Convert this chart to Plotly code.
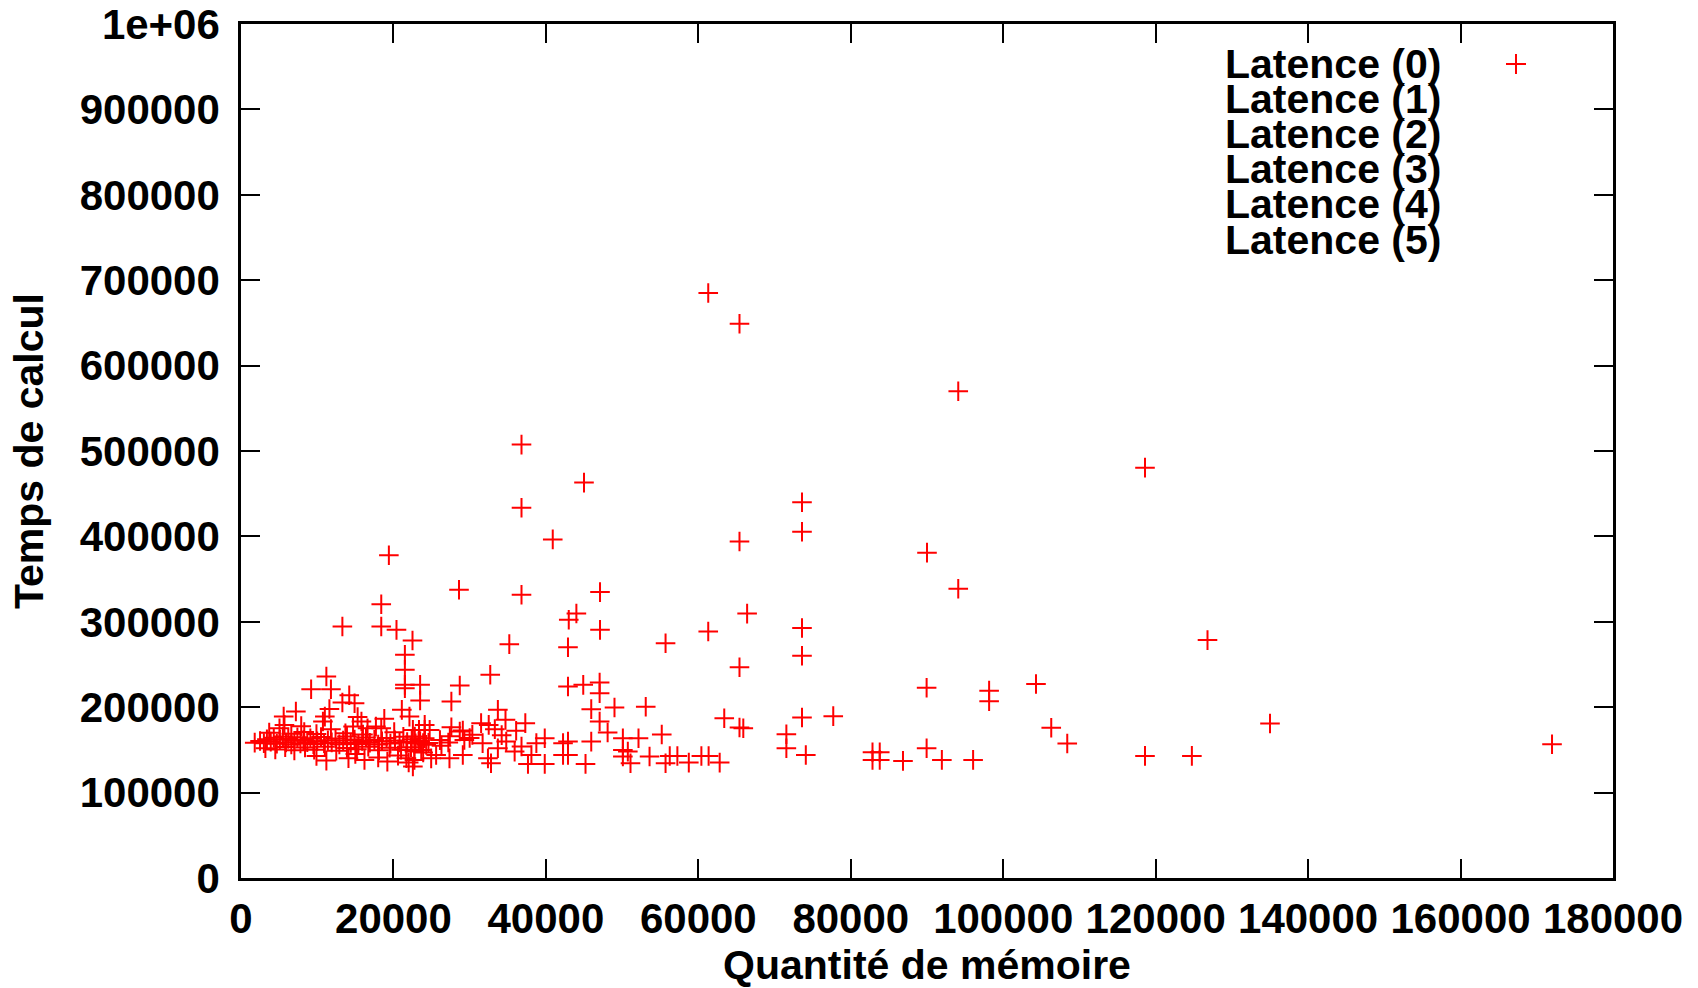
import plotly.graph_objects as go

# ---- data ----
memoire = [
    61300, 65400, 94100, 36800, 45000, 118600, 36800, 73600, 73600, 65400,
    40900, 90000, 19400, 28600, 94100, 47100, 36800, 18400, 13300, 18400,
    20400, 22500, 44000, 43000, 47100, 66400, 61300, 73600, 73600, 65400,
    55700, 35200, 42900, 126800, 21500, 21500,
    32700, 11200, 89950, 104300, 98150, 98150, 135000, 9200, 11800, 14200,
    13300, 14900, 21500, 21500, 23500, 23500, 28700, 27600, 21100, 33700,
    42900, 44900, 47050, 47050, 45950, 49000, 53100, 7200, 11600, 11000,
    10750, 15300, 15800, 5600, 18800, 22100, 34700, 31500, 37300, 47050,
    63400, 73600, 77700, 108400, 106300,
    5700, 5050, 18400, 16600, 14700, 11800, 17700, 24100, 32500, 33300,
    27600, 29100, 28700, 48100, 65400, 65900, 55200, 71550, 22550, 23350,
    24100, 24750, 27400, 30350, 8300, 9900, 3700, 6600, 13700, 20100,
    16000, 7900,
    1800, 2500, 3000, 3400, 3900, 4300, 4700, 5100, 5500, 5900,
    6200, 6600, 7000, 7400, 7800, 8200, 8700, 9100, 9500, 10000,
    10500, 10900, 11400, 11900, 12400, 12900, 13400, 13900, 14400, 14900,
    15400, 15900, 16400, 16900, 17500, 18000, 18500, 19100, 19600, 20200,
    20800, 21300, 21800, 22400, 22900, 23500, 24100, 24600, 22800, 23300,
    23900, 24300, 3200, 4500, 5800, 7000, 8400, 9600, 11000, 12500,
    13900, 15200, 16700, 18100, 19500, 21000, 22300, 21700, 22750, 23650,
    26100, 27200,
    9900, 11200, 14100, 15000, 16200, 18000, 19200, 20600, 22000, 21700,
    22750, 22550, 23900, 25600, 24950, 27350, 29100,
    29300, 31700, 33700, 34800, 32400, 32800, 35900, 36800, 38100, 37650,
    39850, 38750, 39850, 42250, 42250, 30000, 34200, 36100, 26300,
    42900, 45950, 42900, 50100, 52150, 50100, 50100, 50750, 51100, 45200,
    53600, 55700, 56250, 57250, 58750, 60400, 61350, 62800,
    71550, 74100, 82850, 83800, 82850, 83800, 86850, 89950, 91950, 96050,
    118600, 124750, 172000,
]
temps = [
    685000, 649000, 570000, 507500, 463000, 480500, 433500, 440000, 405500, 394000,
    396500, 381000, 378000, 337500, 338700, 334800, 331700, 320500, 294500, 294500,
    290600, 278100, 309800, 302400, 290600, 309600, 288700, 292800, 260200, 246800,
    274900, 273800, 270200, 278600, 261300, 243800,
    238000, 236000, 222800, 227200, 219400, 206900, 181000, 221100, 221100, 214000,
    205500, 204700, 226200, 222300, 226200, 207800, 225400, 206600, 196900, 196900,
    224200, 226200, 228900, 216400, 197700, 199600, 200500, 194900, 197900, 189000,
    183200, 188500, 183200, 189000, 186500, 189000, 185200, 181300, 181300, 183200,
    187100, 187900, 189500, 157500, 176000,
    179300, 175400, 175400, 175400, 177300, 174300, 177300, 179300, 179300, 174300,
    176600, 172600, 171500, 170300, 176200, 175400, 168000, 168400, 173400, 173400,
    173400, 173400, 166000, 167600, 171000, 168500, 170200, 168800, 169500, 170800,
    168000, 177800,
    158500, 160500, 157900, 162500, 159700, 164300, 157200, 161800, 165600, 158600,
    162900, 156300, 160800, 164900, 157600, 161500, 159000, 163700, 156800, 160200,
    165100, 157900, 161300, 158800, 163400, 156500, 160900, 165800, 158100, 162200,
    157000, 160500, 164600, 158300, 161700, 156200, 160100, 163900, 157400, 161100,
    158700, 165300, 159300, 162600, 157800, 160400, 163600, 158200, 165600, 159700,
    157900, 155900, 152000, 150500, 153300, 149500, 152800, 150300, 153600, 149000,
    152300, 150800, 153800, 149600, 152600, 150100, 153000, 150000, 148000, 150000,
    161500, 158600,
    143000, 137500, 140200, 145300, 138300, 141200, 136300, 143300, 135300, 140200,
    138300, 130500, 147000, 144100, 140100, 140100, 144100,
    161700, 157900, 152000, 159700, 140100, 134400, 148000, 153900, 144100, 133600,
    133600, 157900, 163700, 157900, 144100, 164000, 167300, 172500, 155000,
    159700, 159700, 144100, 163700, 163700, 150000, 142200, 148000, 134400, 133600,
    142200, 134400, 142900, 142900, 135100, 142900, 142900, 135100,
    152000, 144100, 147300, 147300, 138300, 138300, 137100, 152000, 138300, 138300,
    143000, 143000, 156700,
]

x_tick_values = [0, 20000, 40000, 60000, 80000, 100000, 120000, 140000, 160000, 180000]
x_tick_labels = ["0", "20000", "40000", "60000", "80000", "100000", "120000", "140000", "160000", "180000"]
y_tick_values = [0, 100000, 200000, 300000, 400000, 500000, 600000, 700000, 800000, 900000, 1000000]
y_tick_labels = ["0", "100000", "200000", "300000", "400000", "500000", "600000", "700000", "800000", "900000", "1e+06"]
legend_labels = ["Latence (0)", "Latence (1)", "Latence (2)", "Latence (3)", "Latence (4)", "Latence (5)"]

FONT = "Liberation Sans, Arial, Helvetica, sans-serif"
W, H = 1698, 988
ML, MR, MT, MB = 241, 85, 24, 110
PW = W - ML - MR
PH = H - MT - MB

fig = go.Figure()
fig.add_trace(go.Scatter(
    x=memoire, y=temps, mode="markers", name=legend_labels[0],
    marker=dict(symbol="cross-thin", size=14, color="red",
                line=dict(color="red", width=2)),
    showlegend=False,
))

axis_common = dict(
    showline=True, linecolor="black", linewidth=2.5, mirror="ticks",
    ticks="inside", ticklen=19, tickcolor="black",
    showgrid=False, zeroline=False, automargin=False,
    ticklabeloverflow="allow",
    tickfont=dict(family=FONT, size=42, color="black", weight="bold"),
)

fig.update_xaxes(
    range=[0, 180000], tickvals=x_tick_values, ticktext=x_tick_labels,
    tickwidth=1.5, ticklabelstandoff=2,
    title=dict(text="Quantité de mémoire", standoff=14,
               font=dict(family=FONT, size=41, color="black", weight="bold")),
    **axis_common,
)
fig.update_yaxes(
    range=[0, 1000000], tickvals=y_tick_values, ticktext=y_tick_labels,
    tickwidth=2.2, ticklabelstandoff=10,
    title=dict(text="Temps de calcul", standoff=24,
               font=dict(family=FONT, size=41, color="black", weight="bold")),
    **axis_common,
)

# gnuplot-style key: right-justified text, sample to its right
text_right_px = 1443
line0_px = 64
line_step_px = 35.1
key_sample_px = 1516
annotations = []
for i, lab in enumerate(legend_labels):
    py = line0_px + i * line_step_px
    annotations.append(dict(
        xref="paper", yref="paper",
        x=(text_right_px - ML) / PW, y=(H - MB - py) / PH,
        xanchor="right", yanchor="middle", showarrow=False,
        text=lab, font=dict(family=FONT, size=41, color="black", weight="bold"),
    ))

kx = (key_sample_px - ML) / PW
ky = (H - MB - line0_px) / PH
shapes = [
    dict(type="line", xref="paper", yref="paper", xsizemode="pixel", ysizemode="pixel",
         xanchor=kx, yanchor=ky, x0=-10, x1=10, y0=0, y1=0,
         line=dict(color="red", width=2)),
    dict(type="line", xref="paper", yref="paper", xsizemode="pixel", ysizemode="pixel",
         xanchor=kx, yanchor=ky, x0=0, x1=0, y0=-10, y1=10,
         line=dict(color="red", width=2)),
]

fig.update_layout(
    width=W, height=H,
    margin=dict(l=ML, r=MR, t=MT, b=MB, autoexpand=False),
    paper_bgcolor="white", plot_bgcolor="white",
    annotations=annotations, shapes=shapes,
    showlegend=False,
)

fig.write_html(
    "out.html",
    config={"displayModeBar": False},
    post_script="document.body.style.margin='0px'; document.body.style.overflow='hidden';",
)
